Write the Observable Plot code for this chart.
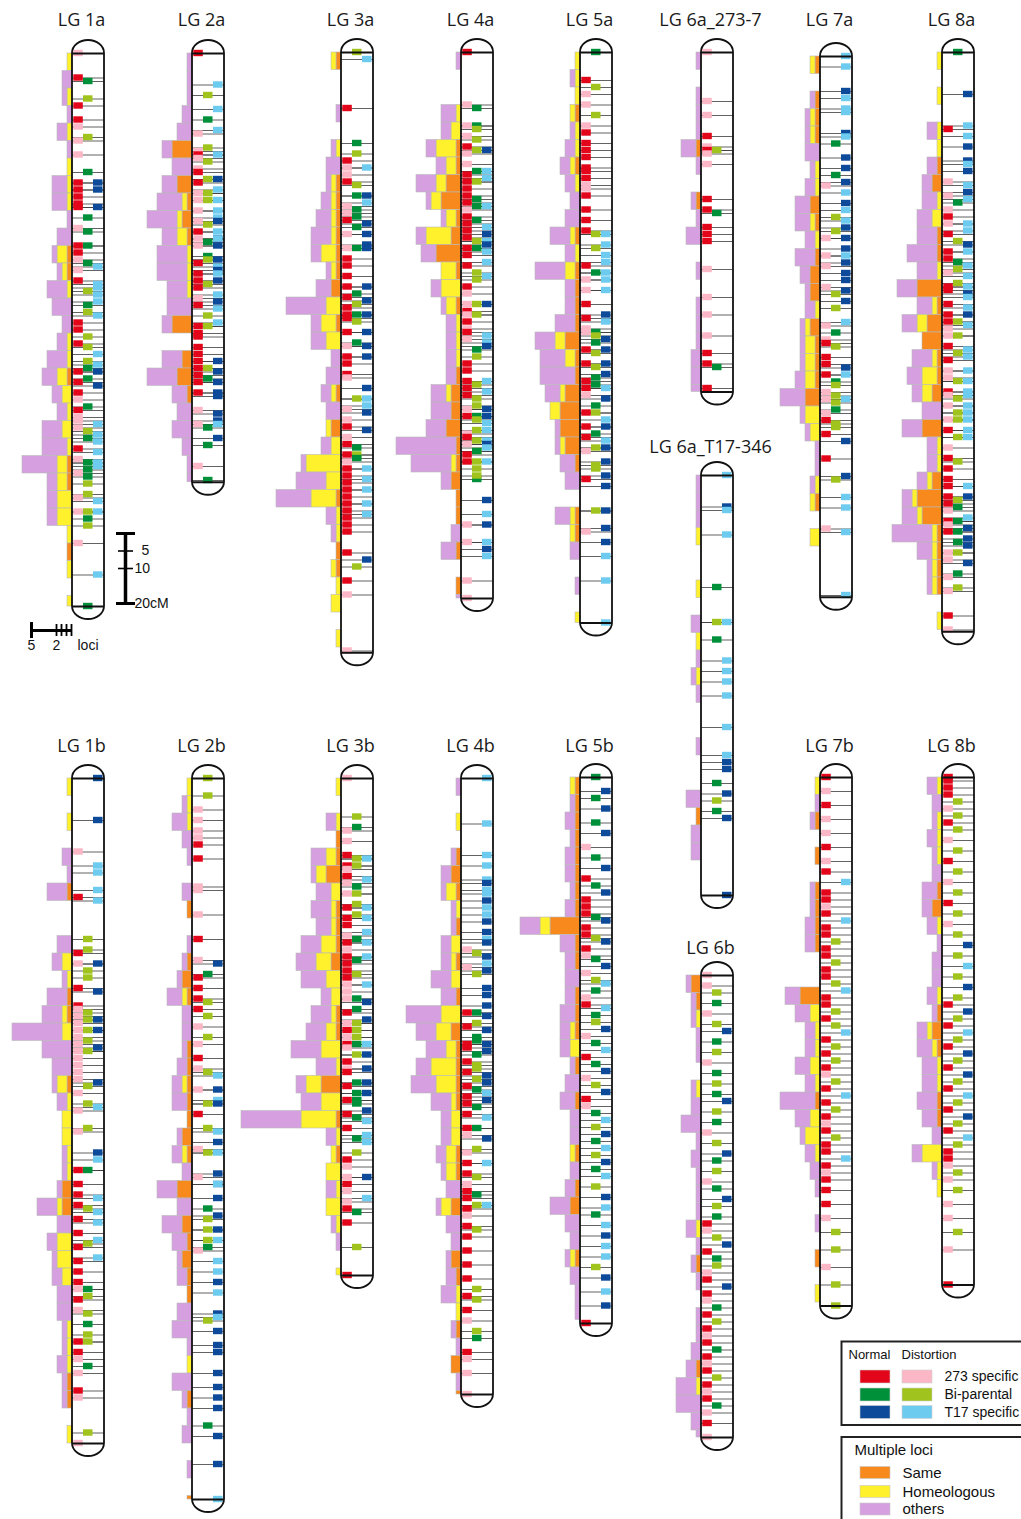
<!DOCTYPE html>
<html>
<head>
<meta charset="utf-8">
<script src="https://cdn.jsdelivr.net/npm/d3@7"></script>
<script src="https://cdn.jsdelivr.net/npm/@observablehq/plot@0.6"></script>
<style>
html,body{margin:0;padding:0;background:#fff;overflow:hidden;}
#chart svg{display:block;}
</style>
</head>
<body>
<div id="chart"></div>
<script>
// ================= DATA =================
const lgNames = ["LG 1a","LG 2a","LG 3a","LG 4a","LG 5a","LG 6a_273-7","LG 6a_T17-346","LG 7a","LG 8a",
                 "LG 1b","LG 2b","LG 3b","LG 4b","LG 5b","LG 6b","LG 7b","LG 8b"];
const lgLengthCM = [158,122.5,171.5,156,163,97,120,154.5,165.5,190,206,142,176,156,132,151,145];

// loci: position (cM) + class code  R/P = 273 specific (normal/distortion),
// G/L = bi-parental (normal/distortion), B/C = T17 specific (normal/distortion)
const lgMarkers = [
"0P 7R 8G 13L 15R 19R 21P 24L 25P 29P 34G 37R 37B 39R 39B 41R 43R 44R 44B 47G 50P 51G 55G 55R 57R 59P 60G 61C 62P 65R 66C 67C 69C 68L 71C 72G 74L 75C 77R 79R 81L 83R 84L 86C 89C 88L 90G 91B 91R 93G 95B 94R 97R 99P 101G 102R 104P 105P 106C 107P 108L 109C 110G 111C 114C 117C 118C 113R 116P 117G 119G 121G 120P 123L 126L 127P 128C 131C 131L 131P 133G 135L 140P 149C 158G",
"0R 9C 12L 16C 19G 22C 23P 27L 28P 29C 29R 30P 31L 33P 34R 36L 36B 37R 39C 40P 40L 42L 42C 42P 45P 45C 47C 48P 48B 49L 51C 51R 53P 53B 54G 53C 55P 55B 58G 59B 59L 61C 60R 63R 65R 62B 63C 65B 66L 67R 69C 70P 71B 72R 73C 75L 77C 78R 78L 80R 81R 84R 86R 88R 90R 92R 94R 90L 93G 88B 91B 94B 97B 98B 97R 102P 103B 105B 106C 106P 107G 110B 112G 118P 122G",
"0L 2C 16R 26G 29L 31R 33P 33C 35P 37R 38L 41G 41B 43C 44P 46P 45G 47G 48R 50G 52P 49B 52B 55B 56G 56P 59R 61R 56B 64R 67R 67B 69G 70R 73R 75R 76R 72L 75G 77L 71B 75B 80B 80R 83G 84P 84B 87R 87B 89R 92R 93P 96B 99L 99C 102P 101C 103B 105P 107R 108B 110P 112R 113G 115L 115R 116G 117P 119R 121R 123R 125R 127R 129R 131R 119C 122C 125C 129C 132C 133R 135R 137R 143R 145B 147L 151R 155P 171P",
"0R 15P 16G 21G 21P 22L 24P 25L 27R 28L 28B 29P 32P 34G 34C 36C 35R 37R 39R 41R 43R 37L 42G 44G 44C 45P 47R 49R 51R 53R 48G 50C 52B 54L 54C 55B 56R 58R 61R 56G 57C 60C 63L 64C 65L 67R 69P 72P 72L 72B 74R 75L 75P 77R 79P 80R 81C 82P 83C 84B 85G 87L 89R 91R 94R 96R 98R 94C 95L 97C 99L 101L 102P 102B 104G 104R 104B 105L 106C 108C 111C 109P 110R 108L 111L 114L 117L 112P 112B 115R 117R 113C 117C 114G 122G 119L 121L 128B 132C 135P 135B 140P 140C 142B 144C 151P 156P",
"0G 8R 10L 12P 15P 18L 21P 23R 26R 28R 30R 33R 34R 36R 38P 39P 41R 45R 48R 51R 52L 52C 55C 56L 58C 60C 63C 65C 61R 63G 65P 68P 68C 72R 76R 75B 77C 79P 80P 80G 82B 81L 83G 85B 89B 85R 86L 89R 90L 92B 93G 94R 95G 96C 96R 98P 99B 101G 103L 103R 107R 105C 107B 109G 110R 111C 113L 114P 113B 117B 118L 119L 121B 124B 122R 131L 131B 136B 137P 140B 144C 151C 163C",
"0P 14P 18P 24R 27P 28L 28R 29P 32P 42R 45R 46G 50R 52R 54R 62P 70P 75P 81P 86R 89R 90G 96R",
"0C 9B 10C 17C 32G 42L 42C 47G 53C 56C 59C 63C 72C 80C 82B 84B 88G 91B 93L 96G 98B 120B",
"0C 3C 10B 12C 15C 16C 22B 23C 25G 29B 32B 34G 36B 37P 39C 42B 44C 46L 47C 50L 49B 52P 52B 55B 57C 57P 59B 60P 62B 64B 66P 67B 68L 70B 72L 76C 77P 79G 81P 82R 86R 83L 88R 91R 89B 91C 93G 94L 97L 99L 96P 98P 98C 101G 102P 104R 105L 106L 108R 110B 115R 121L 120B 126C 129C 135P 136C 154C",
"0G 12B 21C 22R 24C 27B 31B 32C 34B 37P 38C 40B 41P 42C 43G 45P 47R 49P 49C 51C 52R 54L 55B 57C 57R 59R 60G 61C 62L 63P 64C 66L 67R 67C 69B 68R 72R 75R 77R 70C 73C 75B 78C 77L 81L 79P 81P 84R 85C 87C 86L 88R 91P 93P 94L 91C 94C 97C 97R 98P 99L 98C 101C 103C 101P 103L 105L 105P 105C 108C 110C 108R 110L 113P 116R 117L 119R 122R 124R 127R 124C 128L 127B 129R 131P 130G 134G 137G 133C 134R 135P 137R 136B 139B 141B 140G 143P 143L 145P 146B 149G 150P 153L 154P 161R 165P",
"0B 12B 21P 25C 27C 34R 32C 35C 46L 49L 50R 53P 53B 55L 57L 60R 61B 65R 66P 68P 70P 72P 74P 76P 78P 80P 82P 84P 86P 67L 69L 69B 72L 75L 72B 77B 78L 87B 88L 90P 93L 94C 95P 100L 101P 107B 109C 112R 112G 116R 119R 122R 120C 124C 127C 123L 126R 130R 132C 133L 137C 134R 138R 141R 144R 146G 146P 148L 149R 152P 153L 156G 159L 161L 161R 164R 166P 168G 170P 175R 177P 187L 190P",
"0L 5L 9P 12P 15P 17P 19R 23R 31P 32P 39P 46R 52P 53B 56G 57R 60R 63R 64L 66R 68L 71P 74L 76P 80R 83P 84L 85C 89P 89B 92C 93L 93B 96R 100L 101C 104B 106P 107L 107C 114P 113B 116B 120B 116C 123G 126L 129L 132L 125B 129B 132C 134G 135P 138C 141C 144B 147C 153B 154C 155L 158B 162B 164B 170B 174B 177B 180B 185G 188B 196B 206C",
"0P 11L 14G 15P 18P 22R 25R 23L 23C 25L 26P 28R 29C 30P 31G 33L 33P 36L 37R 40R 42R 39L 37C 40C 45P 44C 46G 47R 47C 51C 49P 51R 53R 55R 52G 56L 57R 59C 59P 61P 63P 63G 64B 66G 67R 70P 69B 70L 72L 74L 72R 74P 76R 76G 77P 76C 79B 79L 81R 83P 83B 87B 90B 84R 88R 87G 90G 92G 92R 96R 100R 93G 97G 95B 98C 103G 102C 104C 107L 109R 111P 114P 114B 116R 118P 120C 121P 123R 124G 127R 134L 142R",
"0C 13C 22C 25C 29C 30B 32C 33C 35B 37C 39C 41B 44B 46C 47B 49P 50L 51B 53C 54P 56L 55B 60B 62B 65B 67R 71R 76R 67G 70L 74G 75G 68B 72B 76B 78B 77R 79G 82L 83L 81R 85B 87B 84R 88R 89G 86L 91R 93R 92B 90C 94G 96R 97C 100G 100R 102P 107P 103B 106L 110R 110C 113R 114L 116P 118R 119G 122C 122L 120R 123R 125P 128R 129L 131R 135R 139R 143R 148R 146L 149L 152R 155P 158L 160G 164R 166P 170P 176P",
"0G 4B 6G 9B 13G 16B 20P 23G 26B 29R 31G 33B 35R 37R 39R 40G 41B 43R 45R 46L 47B 49R 51P 52G 54B 56P 58L 59C 61G 63P 65R 66C 68G 70L 72B 74P 76G 78C 80R 82G 84B 86P 88L 90B 92R 94P 96G 98C 100L 102B 104G 106C 108L 110B 112G 114C 117L 120B 123C 125G 128C 131B 134C 137C 140L 143B 147C 151B 156R",
"0P 3P 5L 8G 11P 14L 16B 19G 22L 25P 28G 31L 34G 36B 39L 42G 45P 48L 51B 53G 56L 59P 61G 64B 66L 69G 71R 73P 75L 77B 79R 81G 83L 85P 87R 89B 91R 93P 95G 97R 99L 101R 103P 105R 107G 109R 111P 113R 115L 117R 119P 121R 123G 125P 128R 132P",
"0R 4P 8R 12P 16P 20R 24P 27R 30C 33R 35R 37P 39R 41C 43R 45R 47L 49R 51R 53L 55R 57R 59L 61C 63R 65R 67L 69R 71L 73C 75R 77L 79R 81L 83R 85P 87L 89R 91C 93R 95L 97R 99P 101R 103L 105R 107R 109C 111R 113P 115R 118R 122R 126P 130L 135L 140P 145L 151L",
"0R 1R 3R 5R 7L 9P 11L 13R 15L 18P 21L 24R 27L 30P 33L 36R 39L 42P 45L 48B 51L 54C 57L 60B 63L 65R 67B 69L 71R 73C 75L 77R 79B 81L 83R 85B 87L 89R 91C 93L 95R 97B 99L 101R 103C 105L 107R 109R 111P 113L 115P 118L 122P 126P 130L 135P 145R"
];

// number of multiple loci per 5-cM bin (one base-36 digit per bin, from the top of each LG)
const sameLoci = [
"00000000000110000010000110001000",
"0000040312100004023100000",
"10000001111112010001020001001100000",
"00000113412510100012231121101010",
"000100100010111131134431001100000",
"00000100100000000000",
"000000000000000000010000",
"1011100021012202111300000100000",
"0000001200110513411204002541111000",
"00000010000011000100000220000000001100",
"000000010012100111112103021211000001000001",
"00011301112001100401010000000",
"000012101010102111100110200210010201",
"11111111611011101010010120010000",
"210000000000000010000010000",
"0010101111004000001000000001000",
"00000012000001210011000000000"
];
const homeoLoci = [
"10101011100211001122121223310101",
"0000000011211100000000000",
"10000101111310333001012735110112010",
"00012422225034211101000100000000",
"111111110011200022012010001100001",
"00000000000000000000",
"000100100101000000000000",
"1001101101100011222032001102000",
"1010110012001012013200111111111010",
"10100000002101200212211010332001110001",
"111000000000100001000100000000000100000000",
"10102221133321241347113131001",
"001000210212043254122220200001100000",
"10000000200000120000010000010000",
"001000100000001000000001000",
"1000000000000211210231000000010",
"10111000100010111100041100000"
];
const otherLoci = [
"02112103313114422432245722200000",
"1112324356366452046334211",
"00010131234213823232302167210000000",
"1003222411230212222344c820023001",
"010012222342622445730113303020100",
"10111310113010111222",
"111000002011100100302200",
"0011131233242121112511111000000",
"0000202233464433043244222238311000",
"00002140032144a64120011143212331121100",
"013210200111322122301224343120341041120100",
"0020313434452446424c200201100",
"100012111224374435422213132123011010",
"01212212432323221332202243212110",
"111110124121112111011224521",
"0110001122003322327312210100000",
"22121232212221233343221000000"
];

const markerClasses = [
  {code: "R", state: "Normal",     kind: "273 specific"},
  {code: "G", state: "Normal",     kind: "Bi-parental"},
  {code: "B", state: "Normal",     kind: "T17 specific"},
  {code: "P", state: "Distortion", kind: "273 specific"},
  {code: "L", state: "Distortion", kind: "Bi-parental"},
  {code: "C", state: "Distortion", kind: "T17 specific"}
];
const multiClasses = ["Same", "Homeologous", "others"];
const cmScaleTicks = [0, 5, 10, 20];
const lociScaleTicks = [8, 3, 2, 1, 0];

// ================= LAYOUT / STYLE =================
const W = 1021, H = 1519;
const PX_PER_CM = 3.5, LOCUS_PX = 5, BIN_CM = 5, HALF = 16, CAP_PX = 13;
const lgCenterX = [88,208,357,477,596,717,717,836,958, 88,208,357,477,596,717,836,958];
const lgTopPx   = [53,53,52,52,52,52,475,56,52, 778,778,778,778,777,975,777,777];
const lgLabelPx = [19.5,19.5,19.5,19.5,19.5,19.5,446.5,19.5,19.5, 745.5,745.5,745.5,745.5,745.5,948,745.5,745.5];
const colOffset = {R:[1.3,10.8], P:[1.3,10.8], G:[11,20.5], L:[11,20.5], B:[21,30.5], C:[21,30.5]};
const typeColor = {R:"#e3061b", P:"#fbb7c6", G:"#00903a", L:"#a0c31d", B:"#0d4a99", C:"#6dcbf0"};
const multiColor = {Same:"#f7891d", Homeologous:"#fff12c", others:"#d6a0e0"};
const Y = px => px / PX_PER_CM;
const LABEL_FONT = "'Open Sans', 'Noto Sans', sans-serif";
const SANS = "'Liberation Sans', Arial, sans-serif";

// ================= BUILD =================
const lgs = lgNames.map((name, i) => ({
  name, len: lgLengthCM[i], cx: lgCenterX[i], top: Y(lgTopPx[i]), label: Y(lgLabelPx[i])
}));
const markers = lgs.flatMap((lg, i) =>
  lgMarkers[i].trim().split(/\s+/).map(t => ({lg, pos: +t.slice(0, -1), type: t.slice(-1)})));
const bins = [];
lgs.forEach((lg, i) => {
  const cats = [["Same", sameLoci[i]], ["Homeologous", homeoLoci[i]], ["others", otherLoci[i]]];
  const n = Math.max(...cats.map(c => c[1].length));
  for (let k = 0; k < n; k++) {
    let before = 0;
    for (const [cat, s] of cats) {
      const c = parseInt(s[k] || "0", 36);
      if (c > 0) bins.push({lg, k, cat, before, count: c});
      before += c;
    }
  }
});
const ends = lgs.flatMap(lg => [{lg, pos: 0}, {lg, pos: lg.len}]);
const CAP = Y(CAP_PX);
const BOX = Y(6.4) / 2;

// scale bars
const cmBase = Y(533), cmX = 125;
const lociY = Y(630), lociX0 = 71;

// legend
const legNormX = [860, 890], legDistX = [902, 932];
const legRowY = [1376.5, 1394.5, 1412];
const multRowY = [1472.5, 1491.5, 1509];

const chart = Plot.plot({
  width: W, height: H,
  margin: 0,
  x: {domain: [0, W], range: [0, W], axis: null},
  y: {domain: [0, H / PX_PER_CM], range: [0, H], axis: null},
  color: {type: "identity"},
  style: {background: "white"},
  marks: [
    // multiple-loci bars
    Plot.rect(bins, {
      x1: d => d.lg.cx - HALF - (d.before + d.count) * LOCUS_PX,
      x2: d => d.lg.cx - HALF - d.before * LOCUS_PX,
      y1: d => d.lg.top + d.k * BIN_CM,
      y2: d => d.lg.top + Math.min((d.k + 1) * BIN_CM, d.lg.len),
      fill: d => multiColor[d.cat], stroke: "#b9b9b9", strokeWidth: 0.6
    }),
    // chromosome body
    Plot.rect(lgs, {x1: d => d.cx - HALF, x2: d => d.cx + HALF, y1: d => d.top - CAP, y2: d => d.top + d.len + CAP,
      fill: "white", rx: HALF, ry: CAP_PX}),
    // locus lines
    Plot.ruleY(markers, {y: d => d.lg.top + d.pos, x1: d => d.lg.cx - HALF, x2: d => d.lg.cx + HALF,
      stroke: "#3a3a3a", strokeWidth: 0.8}),
    // locus boxes
    Plot.rect(markers, {
      x1: d => d.lg.cx - HALF + colOffset[d.type][0], x2: d => d.lg.cx - HALF + colOffset[d.type][1],
      y1: d => d.lg.top + d.pos - BOX, y2: d => d.lg.top + d.pos + BOX,
      fill: d => typeColor[d.type]
    }),
    // ends
    Plot.ruleY(ends, {y: d => d.lg.top + d.pos, x1: d => d.lg.cx - HALF, x2: d => d.lg.cx + HALF,
      stroke: "#111", strokeWidth: 2}),
    // outline
    Plot.rect(lgs, {x1: d => d.cx - HALF, x2: d => d.cx + HALF, y1: d => d.top - CAP, y2: d => d.top + d.len + CAP,
      fill: "none", stroke: "#111", strokeWidth: 1.8, rx: HALF, ry: CAP_PX}),
    // labels
    Plot.text(lgs, {x: d => d.cx - 7, y: "label", text: "name", fontSize: 18, fontFamily: LABEL_FONT, fill: "#1a1a1a"}),

    // cM scale bar
    Plot.ruleX([cmX], {x: d => d, y1: cmBase, y2: cmBase + 20, stroke: "#000", strokeWidth: 3.5}),
    Plot.ruleY(cmScaleTicks, {y: d => cmBase + d, x1: d => (d === 0 || d === 20) ? cmX - 9 : cmX - 7,
      x2: d => (d === 0 || d === 20) ? cmX + 10 : cmX + 8, stroke: "#000",
      strokeWidth: d => (d === 0 || d === 20) ? 3 : 1.6}),
    Plot.text(cmScaleTicks.filter(d => d > 0), {x: d => d === 5 ? cmX + 16 : cmX + 9, y: d => cmBase + d,
      text: d => d === 20 ? "20cM" : String(d), textAnchor: "start", fontSize: 14, fontFamily: SANS, fill: "#111"}),

    // loci scale bar
    Plot.ruleY([lociY], {y: d => d, x1: lociX0 - 8 * LOCUS_PX, x2: lociX0, stroke: "#000", strokeWidth: 3}),
    Plot.ruleX(lociScaleTicks, {x: d => lociX0 - d * LOCUS_PX, y1: d => lociY - (d === 8 ? Y(8) : Y(6)),
      y2: d => lociY + (d === 8 ? Y(8) : Y(6)), stroke: "#000", strokeWidth: d => d === 8 ? 3 : 1.8}),
    Plot.text([{t: 8, s: "5"}, {t: 3, s: "2"}], {x: d => lociX0 - d.t * LOCUS_PX, y: lociY + Y(15), text: "s",
      fontSize: 14, fontFamily: SANS, fill: "#111"}),
    Plot.text(["loci"], {x: lociX0 + 6, y: lociY + Y(15), text: d => d, textAnchor: "start",
      fontSize: 14, fontFamily: SANS, fill: "#111"}),

    // legend boxes
    Plot.rect([{y1: 1341.5, y2: 1425}, {y1: 1437, y2: 1540}], {x1: 841.5, x2: 1040, y1: d => Y(d.y1), y2: d => Y(d.y2),
      fill: "white", stroke: "#222", strokeWidth: 2}),
    Plot.text(["Normal", "Distortion"], {x: d => d === "Normal" ? 848 : 901, y: Y(1354), text: d => d,
      textAnchor: "start", fontSize: 13, fontFamily: SANS, fill: "#111"}),
    Plot.rect(markerClasses, {
      x1: d => d.state === "Normal" ? legNormX[0] : legDistX[0], x2: d => d.state === "Normal" ? legNormX[1] : legDistX[1],
      y1: (d, i) => Y(legRowY[i % 3] - 6.5), y2: (d, i) => Y(legRowY[i % 3] + 6.5),
      fill: d => typeColor[d.code], stroke: "#d0d0d0", strokeWidth: 0.6
    }),
    Plot.text(markerClasses.filter(d => d.state === "Normal"), {x: 944, y: (d, i) => Y(legRowY[i]), text: "kind",
      textAnchor: "start", fontSize: 14, fontFamily: SANS, fill: "#111"}),
    Plot.text(["Multiple loci"], {x: 854, y: Y(1450), text: d => d, textAnchor: "start", fontSize: 15,
      fontFamily: SANS, fill: "#111"}),
    Plot.rect(multiClasses, {x1: 860, x2: 890, y1: (d, i) => Y(multRowY[i] - 6), y2: (d, i) => Y(multRowY[i] + 6),
      fill: d => multiColor[d], stroke: "#c8c8c8", strokeWidth: 0.6}),
    Plot.text(multiClasses, {x: 902, y: (d, i) => Y(multRowY[i]), text: d => d, textAnchor: "start",
      fontSize: 15, fontFamily: SANS, fill: "#111"})
  ]
});
document.getElementById("chart").appendChild(chart);
</script>
</body>
</html>
